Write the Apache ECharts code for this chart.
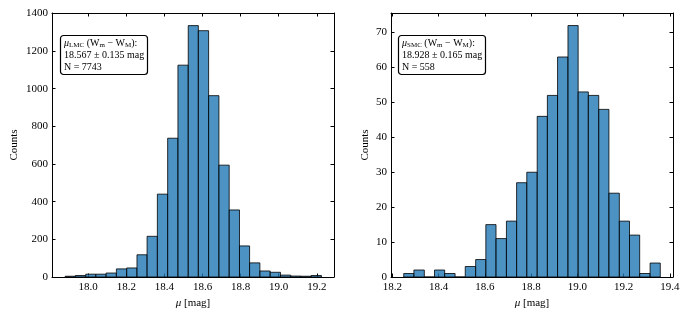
<!DOCTYPE html>
<html><head><meta charset="utf-8">
<script src="https://cdn.jsdelivr.net/npm/echarts@6/dist/echarts.min.js"></script>
<style>html,body{margin:0;padding:0;background:#fff}#c{width:689px;height:319px}</style>
</head><body><div id="c"></div>
<script>
// ---- data ----
const lmcEdges = [17.879, 17.933, 17.987, 18.040, 18.094, 18.148, 18.202, 18.256, 18.309, 18.363,
  18.417, 18.471, 18.525, 18.578, 18.632, 18.686, 18.740, 18.794, 18.847, 18.901,
  18.955, 19.009, 19.063, 19.116, 19.170, 19.224];
const lmcCounts = [4, 8, 15, 15, 21, 43, 48, 118, 216, 440, 737, 1125, 1335, 1308, 963, 594, 356, 165, 75, 32, 25, 10, 5, 4, 8];
const smcEdges = [18.249, 18.293, 18.338, 18.382, 18.426, 18.471, 18.515, 18.560, 18.604, 18.648,
  18.693, 18.737, 18.781, 18.826, 18.870, 18.914, 18.959, 19.003, 19.047, 19.092,
  19.136, 19.181, 19.225, 19.269, 19.314, 19.358];
const smcCounts = [1, 2, 0, 2, 1, 0, 3, 5, 15, 11, 16, 27, 30, 46, 52, 63, 72, 53, 52, 48, 24, 16, 12, 1, 4];
const lmcXTicks = ['18.0', '18.2', '18.4', '18.6', '18.8', '19.0', '19.2'];
const smcXTicks = ['18.2', '18.4', '18.6', '18.8', '19.0', '19.2', '19.4'];
const lmcYTicks = ['0', '200', '400', '600', '800', '1000', '1200', '1400'];
const smcYTicks = ['0', '10', '20', '30', '40', '50', '60', '70'];
const lmcXRange = [17.81, 19.29];
const smcXRange = [18.194, 19.413];
const lmcYMax = 1402;
const smcYMax = 75.6;
const lmcLabel = ['{i|μ}{s|LMC} (W{s|m} − W{s|M}):', '18.567 ± 0.135 mag', 'N = 7743'];
const smcLabel = ['{i|μ}{s|SMC} (W{s|m} − W{s|M}):', '18.928 ± 0.165 mag', 'N = 558'];

// ---- styles ----
const FONT = 'Liberation Serif';
const fill = 'rgba(31,119,180,0.8)';
const edge = 'rgba(0,0,0,0.8)';

function binData(edges, counts) {
  return counts.map((c, i) => [edges[i], edges[i + 1], c]);
}
function fmtX(ticks) {
  return v => { const s = v.toFixed(1); return (ticks.includes(s) && Math.abs(v - parseFloat(s)) < 1e-6) ? s : ''; };
}
function fmtY(ticks) {
  return v => { const s = String(Math.round(v)); return (ticks.includes(s) && Math.abs(v - Math.round(v)) < 1e-6) ? s : ''; };
}
const line = { show: true, onZero: false, lineStyle: { color: '#000', width: 1 } };
const tick = { show: true, inside: true, length: 3.5, lineStyle: { color: '#000', width: 1 } };
const nameStyle = { fontFamily: FONT, fontSize: 11, color: '#000', rich: { i: { fontFamily: FONT, fontStyle: 'italic', fontSize: 11, color: '#000' } } };

function xAxes(grid, range, ticks) {
  return [
    { type: 'value', gridIndex: grid, position: 'bottom', min: range[0], max: range[1], splitNumber: 7,
      axisLine: line, axisTick: tick, splitLine: { show: false },
      axisLabel: { show: true, margin: 5, fontFamily: FONT, fontSize: 11, color: '#000', formatter: fmtX(ticks), showMinLabel: true, showMaxLabel: true },
      name: '{i|μ} [mag]', nameLocation: 'middle', nameGap: 20, nameTextStyle: nameStyle },
    { type: 'value', gridIndex: grid, position: 'top', min: range[0], max: range[1], splitNumber: 7,
      axisLine: line, axisTick: tick, splitLine: { show: false }, axisLabel: { show: false } }
  ];
}
function yAxes(grid, max, interval, ticks, gap) {
  return [
    { type: 'value', gridIndex: grid, position: 'left', min: 0, max: max, interval: interval,
      axisLine: line, axisTick: tick, splitLine: { show: false },
      axisLabel: { show: true, margin: 4, fontFamily: FONT, fontSize: 11, color: '#000', formatter: fmtY(ticks) },
      name: 'Counts', nameLocation: 'middle', nameGap: gap, nameTextStyle: nameStyle },
    { type: 'value', gridIndex: grid, position: 'right', min: 0, max: max, interval: interval,
      axisLine: line, axisTick: tick, splitLine: { show: false }, axisLabel: { show: false } }
  ];
}
function histSeries(xi, yi, data) {
  return {
    type: 'custom', xAxisIndex: xi, yAxisIndex: yi, data: data, clip: false,
    encode: { x: [0, 1], y: 2 },
    renderItem: function (params, api) {
      const p0 = api.coord([api.value(0), api.value(2)]);
      const p1 = api.coord([api.value(1), 0]);
      return { type: 'rect', shape: { x: p0[0], y: p0[1], width: p1[0] - p0[0], height: p1[1] - p0[1] },
        style: { fill: fill, stroke: edge, lineWidth: 1 } };
    }
  };
}
function boxTitle(lines, left) {
  return {
    text: lines.join('\n'), left: left, top: 35, padding: [2, 4, 2, 4],
    borderColor: '#000', borderWidth: 1.2, borderRadius: 3, backgroundColor: '#fff',
    textStyle: {
      fontFamily: FONT, fontSize: 10, fontWeight: 'normal', color: '#000', lineHeight: 12,
      rich: {
        i: { fontFamily: FONT, fontStyle: 'italic', fontSize: 10, color: '#000', lineHeight: 12 },
        s: { fontFamily: FONT, fontSize: 7, color: '#000', lineHeight: 6, verticalAlign: 'bottom' }
      }
    }
  };
}

const chart = echarts.init(document.getElementById('c'), null, { renderer: 'canvas' });
chart.setOption({
  animation: false,
  backgroundColor: '#fff',
  title: [boxTitle(lmcLabel, 60), boxTitle(smcLabel, 398)],
  grid: [
    { left: 52, top: 13, width: 282, height: 264 },
    { left: 391, top: 13, width: 282, height: 264 }
  ],
  xAxis: [...xAxes(0, lmcXRange, lmcXTicks), ...xAxes(1, smcXRange, smcXTicks)],
  yAxis: [...yAxes(0, lmcYMax, 200, lmcYTicks, 32), ...yAxes(1, smcYMax, 10, smcYTicks, 20)],
  series: [
    histSeries(0, 0, binData(lmcEdges, lmcCounts)),
    histSeries(2, 2, binData(smcEdges, smcCounts))
  ]
});
</script>
</body></html>
